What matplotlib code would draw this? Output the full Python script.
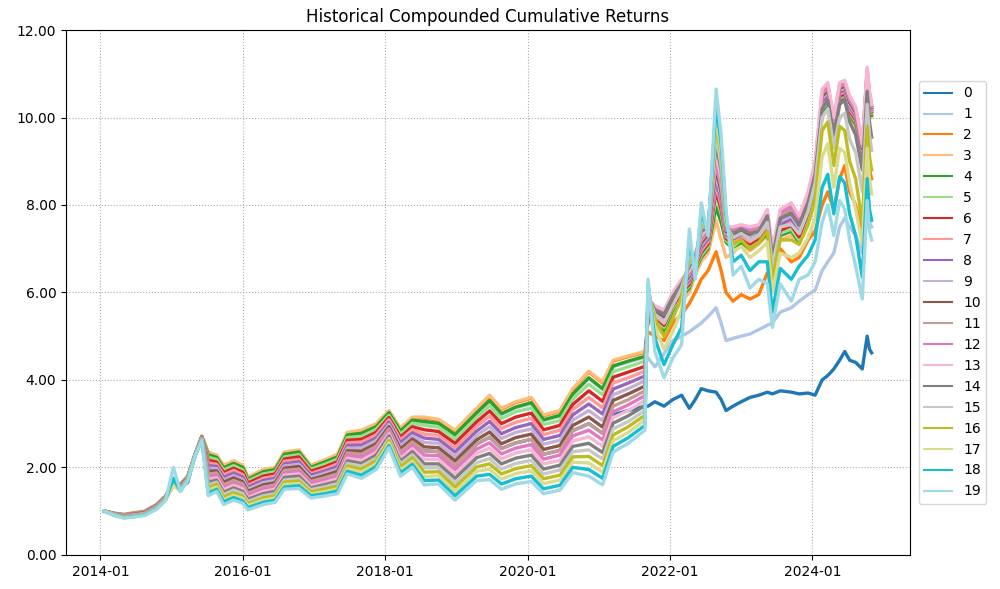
import matplotlib
matplotlib.use('Agg')
import matplotlib.pyplot as plt
import matplotlib.dates as mdates
import pandas as pd

# sample dates
dates = ['2014-01-21', '2014-03-15', '2014-05-01', '2014-06-15', '2014-08-15', '2014-10-15',
         '2014-12-01', '2015-01-10', '2015-02-15', '2015-03-25', '2015-05-01', '2015-06-05',
         '2015-07-08', '2015-08-20', '2015-09-25', '2015-11-15', '2016-01-01', '2016-01-28',
         '2016-04-15', '2016-06-15', '2016-08-01', '2016-10-15', '2016-12-15', '2017-03-01',
         '2017-05-01', '2017-06-20', '2017-09-01', '2017-11-15', '2018-01-20', '2018-03-20',
         '2018-05-20', '2018-07-20', '2018-10-01', '2018-12-25', '2019-04-15', '2019-06-20',
         '2019-08-20', '2019-11-01', '2020-01-20', '2020-03-23', '2020-06-15', '2020-08-20',
         '2020-11-10', '2021-01-20', '2021-03-15', '2021-06-01', '2021-08-25', '2021-09-10',
         '2021-10-15', '2021-12-01', '2022-01-15', '2022-03-01', '2022-04-10', '2022-05-10',
         '2022-06-10', '2022-07-15', '2022-08-25', '2022-09-20', '2022-10-15', '2022-11-20',
         '2023-01-01', '2023-02-15', '2023-04-01', '2023-05-15', '2023-06-10', '2023-07-20',
         '2023-09-15', '2023-10-25', '2023-12-10', '2024-01-15', '2024-02-20', '2024-03-20',
         '2024-04-20', '2024-05-20', '2024-06-15', '2024-07-10', '2024-08-10', '2024-09-13',
         '2024-10-08', '2024-10-20', '2024-10-31']

s0 = [1.00, .93, .89, .91, .95, 1.10, 1.30, 1.61, 1.54, 1.66, 2.28, 2.67, 1.85, 1.87, 1.60, 1.70,
      1.62, 1.41, 1.55, 1.60, 1.93, 1.96, 1.68, 1.77, 1.85, 2.33, 2.30, 2.48, 2.88, 2.35, 2.58, 2.38,
      2.36, 2.05, 2.53, 2.69, 2.43, 2.56, 2.64, 2.30, 2.39, 2.84, 3.00, 2.78, 3.20, 3.30, 3.40,
      3.40, 3.50, 3.40, 3.55, 3.65, 3.35, 3.55, 3.80, 3.75, 3.72, 3.55, 3.30, 3.40, 3.50, 3.60, 3.65,
      3.72, 3.68, 3.75, 3.72, 3.68, 3.70, 3.65, 4.00, 4.10, 4.25, 4.45, 4.65, 4.45, 4.40, 4.25, 5.00,
      4.70, 4.62]
s1 = [1.00, .93, .90, .93, .97, 1.12, 1.32, 1.63, 1.59, 1.77, 2.28, 2.69, 2.27, 2.21, 1.97, 2.07,
      1.98, 1.71, 1.88, 1.93, 2.28, 2.33, 1.98, 2.11, 2.22, 2.72, 2.76, 2.91, 3.23, 2.81, 3.06, 3.03,
      2.99, 2.73, 3.23, 3.51, 3.21, 3.36, 3.46, 3.07, 3.17, 3.66, 4.03, 3.78, 4.30, 4.41, 4.52,
      4.50, 4.30, 4.60, 4.90, 5.00, 5.10, 5.20, 5.30, 5.45, 5.65, 5.30, 4.90, 4.95, 5.00, 5.05, 5.15,
      5.25, 5.30, 5.55, 5.65, 5.80, 5.95, 6.05, 6.50, 6.70, 6.90, 7.50, 7.70, 7.50, 7.30, 6.90, 7.90,
      7.60, 7.50]
s2 = [1.00, .93, .91, .94, .98, 1.13, 1.33, 1.63, 1.60, 1.78, 2.28, 2.70, 2.33, 2.26, 2.03, 2.13,
      2.03, 1.76, 1.93, 1.98, 2.33, 2.38, 2.03, 2.16, 2.28, 2.78, 2.83, 2.98, 3.28, 2.88, 3.13, 3.13,
      3.08, 2.83, 3.33, 3.63, 3.33, 3.48, 3.58, 3.18, 3.28, 3.78, 4.18, 3.93, 4.43, 4.53, 4.63,
      5.10, 5.00, 4.90, 5.30, 5.50, 5.75, 6.00, 6.30, 6.50, 6.93, 6.50, 6.00, 5.80, 5.95, 5.85, 5.95,
      6.45, 6.30, 7.00, 6.70, 6.80, 7.20, 7.40, 8.00, 8.30, 7.90, 8.60, 8.90, 8.30, 8.00, 7.40, 9.00,
      8.80, 8.60]
s3 = [1.00, .95, .93, .96, 1.00, 1.15, 1.35, 1.65, 1.62, 1.80, 2.30, 2.72, 2.35, 2.28, 2.05, 2.15,
      2.05, 1.78, 1.95, 2.00, 2.35, 2.40, 2.05, 2.18, 2.30, 2.80, 2.85, 3.00, 3.30, 2.90, 3.15, 3.15,
      3.10, 2.85, 3.35, 3.65, 3.35, 3.50, 3.60, 3.20, 3.30, 3.80, 4.20, 3.95, 4.45, 4.55, 4.65,
      5.30, 5.30, 5.00, 5.50, 5.80, 6.00, 6.40, 6.70, 6.90, 7.65, 7.20, 6.80, 6.90, 7.10, 6.95, 7.10,
      7.30, 6.50, 7.20, 7.30, 7.10, 7.60, 8.30, 10.00, 10.20, 9.50, 10.30, 10.40, 10.00, 9.80, 9.00,
      10.60, 10.20, 10.00]
s4 = [1.00, .95, .92, .95, .99, 1.14, 1.34, 1.65, 1.61, 1.79, 2.30, 2.71, 2.29, 2.23, 1.99, 2.09,
      2.00, 1.73, 1.90, 1.95, 2.30, 2.35, 2.00, 2.13, 2.24, 2.74, 2.78, 2.93, 3.25, 2.83, 3.08, 3.05,
      3.01, 2.75, 3.25, 3.53, 3.23, 3.38, 3.48, 3.09, 3.19, 3.68, 4.05, 3.80, 4.32, 4.43, 4.54,
      5.40, 5.35, 5.10, 5.60, 5.90, 6.10, 6.50, 6.80, 7.00, 7.95, 7.60, 7.15, 7.00, 7.15, 7.00, 7.15,
      7.35, 6.55, 7.30, 7.40, 7.15, 7.70, 8.40, 10.10, 10.30, 9.60, 10.40, 10.45, 10.05, 9.85, 9.05,
      10.70, 10.25, 10.05]
s5 = [1.00, .94, .92, .95, .99, 1.14, 1.34, 1.64, 1.60, 1.79, 2.29, 2.71, 2.23, 2.18, 1.94, 2.04,
      1.94, 1.69, 1.85, 1.90, 2.24, 2.29, 1.96, 2.08, 2.19, 2.68, 2.71, 2.87, 3.19, 2.76, 3.01, 2.96,
      2.92, 2.65, 3.14, 3.41, 3.12, 3.27, 3.36, 2.98, 3.07, 3.56, 3.90, 3.66, 4.19, 4.30, 4.43,
      5.45, 5.40, 5.20, 5.65, 5.95, 6.15, 6.55, 6.85, 7.05, 8.20, 7.80, 7.20, 7.05, 7.20, 7.05, 7.20,
      7.40, 6.60, 7.35, 7.45, 7.20, 7.75, 8.45, 10.20, 10.35, 9.65, 10.45, 10.50, 10.10, 9.90, 9.10,
      10.80, 10.30, 10.10]
s6 = [1.00, .94, .91, .94, .98, 1.13, 1.33, 1.64, 1.59, 1.78, 2.29, 2.70, 2.16, 2.12, 1.88, 1.98,
      1.89, 1.64, 1.80, 1.85, 2.19, 2.24, 1.91, 2.02, 2.13, 2.62, 2.64, 2.80, 3.14, 2.69, 2.93, 2.86,
      2.82, 2.55, 3.04, 3.29, 3.00, 3.15, 3.24, 2.86, 2.96, 3.44, 3.75, 3.51, 4.06, 4.18, 4.31,
      5.50, 5.44, 5.25, 5.69, 5.99, 6.19, 6.59, 6.91, 7.11, 8.33, 7.90, 7.24, 7.11, 7.24, 7.11, 7.24,
      7.46, 6.65, 7.42, 7.53, 7.27, 7.82, 8.52, 10.26, 10.41, 9.69, 10.49, 10.54, 10.15, 9.94, 9.14,
      10.84, 10.34, 10.13]
s7 = [1.00, .94, .91, .94, .98, 1.12, 1.33, 1.63, 1.58, 1.78, 2.29, 2.70, 2.10, 2.07, 1.83, 1.93,
      1.83, 1.59, 1.75, 1.80, 2.14, 2.18, 1.86, 1.97, 2.08, 2.56, 2.58, 2.74, 3.09, 2.63, 2.86, 2.76,
      2.73, 2.45, 2.94, 3.17, 2.89, 3.03, 3.12, 2.75, 2.85, 3.32, 3.60, 3.36, 3.93, 4.05, 4.20,
      5.55, 5.48, 5.30, 5.74, 6.04, 6.24, 6.64, 6.96, 7.16, 8.45, 8.00, 7.28, 7.16, 7.29, 7.16, 7.29,
      7.53, 6.70, 7.49, 7.60, 7.34, 7.89, 8.59, 10.31, 10.46, 9.74, 10.54, 10.59, 10.20, 9.99, 9.18,
      10.89, 10.38, 10.15]
s8 = [1.00, .93, .90, .93, .97, 1.12, 1.32, 1.63, 1.57, 1.77, 2.28, 2.69, 2.04, 2.02, 1.77, 1.87,
      1.78, 1.55, 1.70, 1.75, 2.08, 2.13, 1.82, 1.92, 2.02, 2.50, 2.51, 2.67, 3.03, 2.56, 2.79, 2.67,
      2.64, 2.35, 2.83, 3.05, 2.77, 2.91, 3.00, 2.64, 2.73, 3.20, 3.45, 3.22, 3.79, 3.93, 4.09,
      5.60, 5.51, 5.35, 5.78, 6.08, 6.28, 6.68, 7.02, 7.22, 8.58, 8.10, 7.31, 7.22, 7.33, 7.22, 7.33,
      7.59, 6.75, 7.56, 7.68, 7.41, 7.96, 8.66, 10.37, 10.52, 9.78, 10.58, 10.63, 10.25, 10.03, 9.21,
      10.93, 10.41, 10.18]
s9 = [1.00, .93, .90, .92, .96, 1.11, 1.31, 1.62, 1.56, 1.76, 2.28, 2.68, 1.98, 1.97, 1.71, 1.81,
      1.72, 1.50, 1.65, 1.70, 2.03, 2.07, 1.77, 1.87, 1.96, 2.44, 2.44, 2.61, 2.98, 2.49, 2.72, 2.57,
      2.55, 2.25, 2.73, 2.93, 2.66, 2.80, 2.88, 2.53, 2.62, 3.08, 3.30, 3.07, 3.66, 3.80, 3.98,
      5.65, 5.55, 5.40, 5.83, 6.13, 6.33, 6.73, 7.08, 7.28, 8.70, 8.20, 7.35, 7.28, 7.38, 7.28, 7.38,
      7.65, 6.80, 7.63, 7.75, 7.48, 8.03, 8.73, 10.43, 10.58, 9.83, 10.63, 10.68, 10.30, 10.08, 9.25,
      10.98, 10.45, 10.20]
s10 = [1.00, .93, .89, .92, .96, 1.10, 1.31, 1.62, 1.55, 1.76, 2.28, 2.68, 1.91, 1.92, 1.66, 1.76,
       1.67, 1.45, 1.60, 1.65, 1.98, 2.02, 1.72, 1.82, 1.91, 2.38, 2.37, 2.54, 2.93, 2.42, 2.65, 2.47,
       2.45, 2.15, 2.63, 2.81, 2.54, 2.68, 2.76, 2.41, 2.50, 2.96, 3.15, 2.92, 3.53, 3.68, 3.86,
       5.70, 5.59, 5.45, 5.87, 6.17, 6.37, 6.77, 7.13, 7.33, 8.83, 8.30, 7.39, 7.33, 7.42, 7.33, 7.42,
       7.71, 6.85, 7.69, 7.83, 7.54, 8.09, 8.79, 10.48, 10.63, 9.87, 10.67, 10.72, 10.35, 10.12, 9.29,
       11.02, 10.49, 10.23]
s11 = [1.00, .93, .89, .91, .95, 1.10, 1.30, 1.61, 1.54, 1.75, 2.28, 2.67, 1.85, 1.87, 1.60, 1.70,
       1.62, 1.41, 1.55, 1.60, 1.93, 1.96, 1.68, 1.77, 1.85, 2.33, 2.30, 2.48, 2.88, 2.35, 2.58, 2.38,
       2.36, 2.05, 2.53, 2.69, 2.43, 2.56, 2.64, 2.30, 2.39, 2.84, 3.00, 2.78, 3.40, 3.55, 3.75,
       5.75, 5.63, 5.50, 5.91, 6.21, 6.41, 6.81, 7.19, 7.39, 8.95, 8.40, 7.43, 7.39, 7.46, 7.39, 7.46,
       7.78, 6.90, 7.76, 7.90, 7.61, 8.16, 8.86, 10.54, 10.69, 9.91, 10.71, 10.76, 10.40, 10.16, 9.33,
       11.06, 10.53, 10.25]
s12 = [1.00, .92, .88, .90, .94, 1.09, 1.29, 1.61, 1.52, 1.74, 2.27, 2.66, 1.79, 1.81, 1.54, 1.64,
       1.56, 1.36, 1.50, 1.55, 1.87, 1.91, 1.63, 1.71, 1.79, 2.27, 2.23, 2.41, 2.82, 2.28, 2.50, 2.28,
       2.27, 1.95, 2.42, 2.56, 2.31, 2.44, 2.52, 2.19, 2.28, 2.72, 2.85, 2.63, 3.27, 3.43, 3.64,
       5.80, 5.66, 5.55, 5.96, 6.26, 6.46, 6.86, 7.24, 7.44, 9.08, 8.50, 7.46, 7.44, 7.51, 7.44, 7.51,
       7.84, 6.95, 7.83, 7.98, 7.68, 8.23, 8.93, 10.59, 10.74, 9.96, 10.76, 10.81, 10.45, 10.21, 9.36,
       11.11, 10.56, 10.28]
s13 = [1.00, .92, .87, .90, .94, 1.08, 1.29, 1.60, 1.51, 1.74, 2.27, 2.66, 1.73, 1.76, 1.49, 1.59,
       1.51, 1.31, 1.45, 1.50, 1.82, 1.85, 1.58, 1.66, 1.74, 2.21, 2.16, 2.34, 2.77, 2.21, 2.43, 2.18,
       2.18, 1.85, 2.32, 2.44, 2.19, 2.33, 2.40, 2.08, 2.16, 2.60, 2.70, 2.48, 3.14, 3.30, 3.53,
       5.85, 5.70, 5.60, 6.00, 6.30, 6.50, 6.90, 7.30, 7.50, 9.20, 8.60, 7.50, 7.50, 7.55, 7.50, 7.55,
       7.90, 7.00, 7.90, 8.05, 7.75, 8.30, 9.00, 10.65, 10.80, 10.00, 10.80, 10.85, 10.50, 10.25, 9.40,
       11.15, 10.60, 10.30]
s14 = [1.00, .92, .87, .89, .93, 1.07, 1.28, 1.60, 1.50, 1.73, 2.27, 2.65, 1.66, 1.71, 1.43, 1.53,
       1.45, 1.27, 1.40, 1.45, 1.77, 1.80, 1.53, 1.61, 1.68, 2.15, 2.09, 2.28, 2.72, 2.14, 2.36, 2.08,
       2.08, 1.75, 2.22, 2.32, 2.08, 2.21, 2.28, 1.96, 2.05, 2.48, 2.55, 2.34, 3.01, 3.18, 3.41,
       5.90, 5.60, 5.50, 5.90, 6.20, 6.60, 6.80, 7.40, 7.50, 9.40, 8.80, 7.50, 7.35, 7.45, 7.35, 7.40,
       7.75, 6.80, 7.70, 7.80, 7.55, 8.05, 8.70, 10.20, 10.40, 9.60, 10.30, 10.40, 9.90, 9.60, 8.80,
       10.60, 9.90, 9.55]
s15 = [1.00, .91, .86, .89, .93, 1.07, 1.28, 1.59, 1.49, 1.73, 2.26, 2.65, 1.60, 1.66, 1.38, 1.48,
       1.40, 1.22, 1.35, 1.40, 1.71, 1.74, 1.49, 1.56, 1.63, 2.09, 2.03, 2.21, 2.66, 2.08, 2.29, 1.99,
       1.99, 1.65, 2.11, 2.20, 1.96, 2.09, 2.16, 1.85, 1.94, 2.36, 2.40, 2.19, 2.88, 3.05, 3.30,
       5.95, 5.50, 5.30, 5.70, 6.10, 6.70, 6.70, 7.50, 7.50, 9.60, 8.90, 7.55, 7.25, 7.35, 7.20, 7.30,
       7.60, 6.60, 7.50, 7.55, 7.35, 7.85, 8.50, 10.00, 10.20, 9.30, 10.00, 10.10, 9.50, 9.20, 8.30,
       10.30, 9.60, 9.25]
s16 = [1.00, .91, .86, .88, .92, 1.06, 1.27, 1.59, 1.48, 1.72, 2.26, 2.64, 1.54, 1.61, 1.32, 1.42,
       1.34, 1.17, 1.30, 1.35, 1.66, 1.69, 1.44, 1.51, 1.57, 2.03, 1.96, 2.15, 2.61, 2.01, 2.22, 1.89,
       1.90, 1.55, 2.01, 2.08, 1.85, 1.97, 2.04, 1.74, 1.82, 2.24, 2.25, 2.04, 2.74, 2.93, 3.19,
       6.00, 5.40, 5.00, 5.40, 5.90, 6.80, 6.60, 7.60, 7.45, 9.90, 9.10, 7.60, 7.10, 7.20, 7.00, 7.15,
       7.40, 6.30, 7.20, 7.20, 7.10, 7.55, 8.10, 9.70, 9.90, 8.90, 9.80, 9.70, 9.00, 8.60, 7.60,
       9.80, 9.10, 8.80]
s17 = [1.00, .91, .85, .87, .91, 1.05, 1.26, 1.58, 1.47, 1.71, 2.26, 2.63, 1.48, 1.55, 1.26, 1.36,
       1.29, 1.13, 1.25, 1.30, 1.61, 1.63, 1.39, 1.45, 1.51, 1.97, 1.89, 2.08, 2.56, 1.94, 2.14, 1.79,
       1.81, 1.45, 1.91, 1.96, 1.73, 1.86, 1.92, 1.63, 1.71, 2.12, 2.10, 1.89, 2.61, 2.80, 3.08,
       6.10, 5.20, 4.70, 5.10, 5.60, 7.00, 6.50, 7.70, 7.40, 10.05, 9.20, 7.65, 6.95, 7.05, 6.80, 6.95,
       7.15, 6.00, 6.90, 6.80, 6.90, 7.25, 7.70, 9.10, 9.40, 8.40, 9.30, 9.20, 8.50, 7.90, 7.10,
       9.30, 8.60, 8.25]
s18 = [1.00, .90, .85, .87, .91, 1.05, 1.26, 1.75, 1.46, 1.71, 2.25, 2.63, 1.41, 1.50, 1.21, 1.31,
       1.23, 1.08, 1.20, 1.25, 1.55, 1.58, 1.35, 1.40, 1.46, 1.91, 1.82, 2.02, 2.50, 1.87, 2.07, 1.70,
       1.71, 1.35, 1.80, 1.84, 1.62, 1.74, 1.80, 1.51, 1.59, 2.00, 1.95, 1.75, 2.48, 2.68, 2.96,
       6.20, 4.95, 4.35, 4.80, 5.20, 7.20, 6.40, 7.85, 7.35, 10.30, 9.40, 7.75, 6.70, 6.85, 6.50, 6.70,
       6.70, 5.55, 6.55, 6.30, 6.60, 6.85, 7.20, 8.40, 8.70, 7.80, 8.65, 8.50, 7.80, 7.30, 6.35,
       8.60, 7.90, 7.65]
s19 = [1.00, .90, .84, .86, .90, 1.04, 1.25, 2.00, 1.45, 1.70, 2.25, 2.62, 1.35, 1.45, 1.15, 1.25,
       1.18, 1.03, 1.15, 1.20, 1.50, 1.52, 1.30, 1.35, 1.40, 1.85, 1.75, 1.95, 2.45, 1.80, 2.00, 1.60,
       1.62, 1.25, 1.70, 1.72, 1.50, 1.62, 1.68, 1.40, 1.48, 1.88, 1.80, 1.60, 2.35, 2.55, 2.85,
       6.30, 4.65, 4.05, 4.50, 4.80, 7.45, 6.30, 8.05, 7.30, 10.65, 9.60, 7.90, 6.40, 6.60, 6.10, 6.30,
       6.20, 5.20, 6.20, 5.80, 6.30, 6.40, 6.70, 7.60, 8.00, 7.30, 8.10, 7.90, 7.20, 6.60, 5.85,
       8.10, 7.40, 7.20]

series = [s0, s1, s2, s3, s4, s5, s6, s7, s8, s9, s10, s11, s12, s13, s14, s15, s16, s17, s18, s19]
x = pd.to_datetime(dates)

fig, ax = plt.subplots(figsize=(10, 5.89), dpi=100)
cmap = plt.get_cmap('tab20')
for i, s in enumerate(series):
    ax.plot(x, s, color=cmap(i), linewidth=2.4, label=str(i))

ax.set_title('Historical Compounded Cumulative Returns')
ax.set_ylim(0, 12)
ax.set_yticks(range(0, 13, 2))
ax.yaxis.set_major_formatter(plt.FormatStrFormatter('%.2f'))
ax.xaxis.set_major_locator(mdates.YearLocator(2))
ax.xaxis.set_major_formatter(mdates.DateFormatter('%Y-%m'))
ax.grid(True, linestyle=':', color='#aaaaaa')
leg = ax.legend(loc='center left', bbox_to_anchor=(1.002, 0.5))
for line in leg.get_lines():
    line.set_linewidth(1.5)

fig.subplots_adjust(left=0.066, right=0.91, top=0.949, bottom=0.058)
fig.savefig('out.png', dpi=100)
